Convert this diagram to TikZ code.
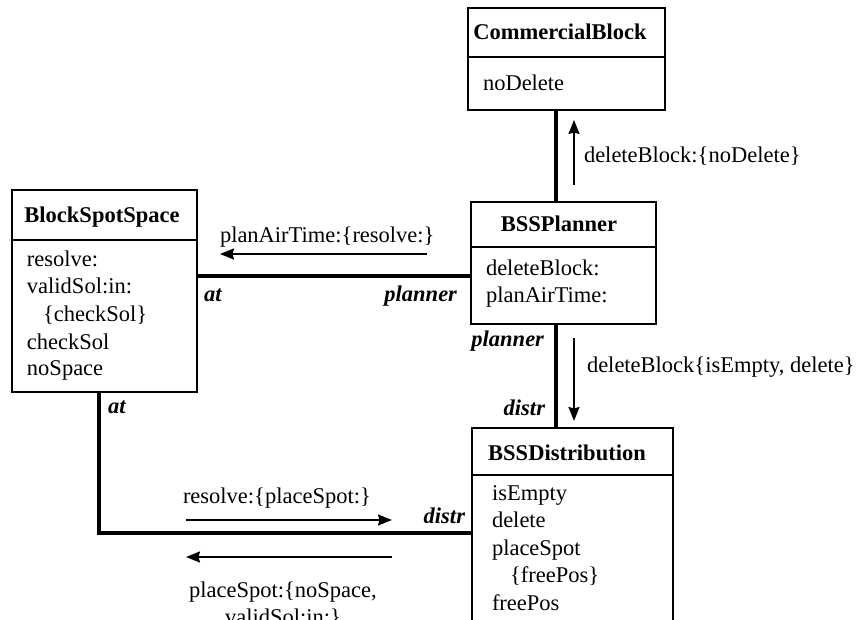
\documentclass[tikz,border=0pt]{standalone}
\usepackage{fontspec}
\setmainfont{Liberation Serif}
\usetikzlibrary{arrows.meta}
\begin{document}
\begin{tikzpicture}[x=1pt,y=-1pt,
  every node/.style={inner sep=0pt, outer sep=0pt, font=\fontsize{22.5}{27}\selectfont},
  classbox/.style={draw, line width=1.8pt, anchor=north west},
  divider/.style={line width=1.8pt},
  assoc/.style={line width=4pt},
  msg/.style={line width=1.8pt, -{Stealth[length=14pt,width=11pt,inset=1.5pt]}},
  title/.style={anchor=base, font=\fontsize{22.5}{27}\selectfont\bfseries},
  item/.style={anchor=base west},
  role/.style={font=\fontsize{22.5}{27}\selectfont\bfseries\itshape},
  lbl/.style={anchor=base west},
]
\useasboundingbox (0,0) rectangle (857,620);

% ---- class boxes ----
\node[classbox, minimum width=197pt, minimum height=102pt] (cb)  at (468,8)   {};
\node[classbox, minimum width=185pt, minimum height=122pt] (bp)  at (471,202) {};
\node[classbox, minimum width=185pt, minimum height=202pt] (bss) at (12,190)  {};
\node[classbox, minimum width=201pt, minimum height=212pt] (bd)  at (472,428) {};

% helper coordinates for dividers and connector lines
\coordinate (ycb) at (0,57);
\coordinate (ybp) at (0,247);
\coordinate (ybss) at (0,240);
\coordinate (ybd) at (0,475);
\coordinate (xv) at (556,0);
\coordinate (xl) at (99,0);
\coordinate (yh) at (0,276);
\coordinate (yl) at (0,533);

\draw[divider] (cb.west |- ycb) -- (cb.east |- ycb);
\draw[divider] (bp.west |- ybp) -- (bp.east |- ybp);
\draw[divider] (bss.west |- ybss) -- (bss.east |- ybss);
\draw[divider] (bd.west |- ybd) -- (bd.east |- ybd);

% ---- titles ----
\node[title] (cbt)  at (560,40)  {CommercialBlock};
\node[title] (bpt)  at (559,232) {BSSPlanner};
\node[title] (bsst) at (102,223) {BlockSpotSpace};
\node[title] (bdt)  at (567,460) {BSSDistribution};

% ---- operations ----
\node[item] (cb1) at (483,91) {noDelete};

\node[item] (bp1) at (486,276) {deleteBlock:};
\node[item] (bp2) at (486,303) {planAirTime:};

\node[item] (bss1) at (27,267) {resolve:};
\node[item] (bss2) at (27,294) {validSol:in:};
\node[item] (bss3) at (43,322) {\{checkSol\}};
\node[item] (bss4) at (27,349) {checkSol};
\node[item] (bss5) at (27,376) {noSpace};

\node[item] (bd1) at (492,500) {isEmpty};
\node[item] (bd2) at (492,527) {delete};
\node[item] (bd3) at (492,555) {placeSpot};
\node[item] (bd4) at (510,582) {\{freePos\}};
\node[item] (bd5) at (492,610) {freePos};

% ---- associations ----
\draw[assoc] (cb.south -| xv) -- (bp.north -| xv);
\draw[assoc] (bss.east |- yh) -- (bp.west |- yh);
\draw[assoc] (bp.south -| xv) -- (bd.north -| xv);
\draw[assoc] (bss.south -| xl) |- (bd.west |- yl);

% ---- role names ----
\node[role, anchor=base west] (r1) at (204,302) {at};
\node[role, anchor=base east] (r2) at (457,302) {planner};
\node[role, anchor=base east] (r3) at (544,347) {planner};
\node[role, anchor=base east] (r4) at (545,415) {distr};
\node[role, anchor=base west] (r5) at (108,413) {at};
\node[role, anchor=base east] (r6) at (465,523) {distr};

% ---- messages ----
\coordinate (m1s) at (574,185); \coordinate (m1e) at (574,120);
\coordinate (m2s) at (427,254); \coordinate (m2e) at (220,254);
\coordinate (m3s) at (574,338); \coordinate (m3e) at (574,421);
\coordinate (m4s) at (186,520); \coordinate (m4e) at (392,520);
\coordinate (m5s) at (392,557); \coordinate (m5e) at (186,557);
\draw[msg] (m1s) -- (m1e);
\draw[msg] (m2s) -- (m2e);
\draw[msg] (m3s) -- (m3e);
\draw[msg] (m4s) -- (m4e);
\draw[msg] (m5s) -- (m5e);

\node[lbl] (l1) at (584,163) {deleteBlock:\{noDelete\}};
\node[lbl] (l2) at (220,243) {planAirTime:\{resolve:\}};
\node[lbl] (l3) at (587,373) {deleteBlock\{isEmpty, delete\}};
\node[lbl] (l4) at (183,503) {resolve:\{placeSpot:\}};
\node[anchor=base] (l5a) at (283,597) {placeSpot:\{noSpace,};
\node[anchor=base] (l5b) at (283,624) {validSol:in:\}};
\end{tikzpicture}
\end{document}
